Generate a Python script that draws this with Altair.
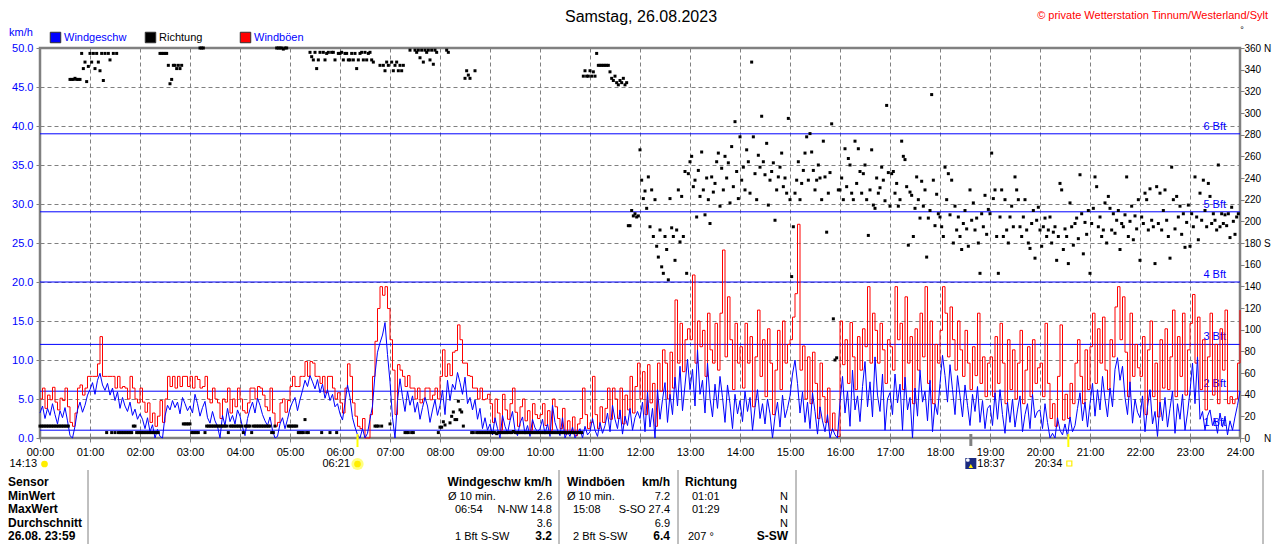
import altair as alt
import pandas as pd

FONT = "Liberation Sans"
BLUE = "#0000FF"
RED = "#FF0000"
GRAY = "#808080"

# ---------------- data ----------------
# wind speed (km/h), one value every 3 minutes, 00:00 .. 24:00
wind_speed = [
    3.2,4.1,2.5,3.8,2.9,4.4,3.0,1.8,3.5,2.6,3.9,2.2,0.3,0.0,1.5,3.6,4.6,3.3,4.2,5.5,
    6.2,7.1,5.6,7.4,8.3,6.8,6.1,7.0,5.5,6.4,4.8,5.9,3.8,5.2,4.1,3.4,4.6,2.9,3.7,2.4,
    3.1,2.4,1.2,2.6,0.8,1.7,0.0,1.1,0.2,0.0,2.8,4.2,3.6,4.8,3.9,4.6,3.1,5.2,4.4,3.5,
    4.1,3.2,5.6,4.4,2.8,3.9,4.7,2.6,1.9,3.4,2.2,1.5,0.0,2.9,1.6,3.8,2.1,2.9,1.8,3.6,
    2.8,1.4,0.3,2.5,3.7,4.6,3.2,5.1,4.2,3.0,2.2,1.6,2.7,1.0,0.0,0.2,1.8,2.6,1.2,2.4,
    3.8,4.6,5.2,3.5,4.9,6.1,7.4,6.6,8.0,7.2,6.3,7.5,5.8,6.9,5.1,6.2,4.8,5.6,4.0,4.4,
    3.1,2.3,4.5,6.8,5.2,2.6,1.4,0.4,0.0,1.2,0.0,0.6,2.4,4.1,8.2,11.0,12.2,13.2,14.8,10.7,
    7.2,2.6,0.0,4.8,7.6,5.3,3.4,6.0,4.2,5.4,3.3,4.6,2.4,3.9,5.2,4.1,2.0,3.6,4.9,2.9,
    4.2,6.1,3.0,7.4,4.8,6.9,6.2,8.4,7.1,5.6,7.8,4.4,5.2,3.6,4.9,2.4,3.8,1.2,2.6,1.0,
    1.8,0.4,2.6,1.2,0.0,2.9,1.5,0.6,2.2,3.4,1.0,0.3,1.9,2.7,0.5,1.6,0.2,2.4,1.3,0.8,
    1.2,2.4,0.5,1.8,0.2,4.2,2.0,1.0,0.3,2.6,0.0,0.8,0.2,1.4,0.0,0.6,1.2,0.0,1.5,0.4,
    0.8,2.5,1.0,0.2,2.0,0.6,1.6,3.2,0.8,4.2,2.4,1.2,3.6,0.5,2.8,1.6,3.8,1.0,2.6,3.4,
    2.5,4.6,0.8,5.9,1.4,3.8,0.0,6.2,2.4,4.9,7.1,2.0,5.6,3.0,7.8,4.1,9.2,3.5,6.8,10.1,
    6.2,8.8,4.1,11.3,5.6,7.4,3.2,9.6,5.1,2.7,6.9,3.8,7.9,5.2,2.0,6.8,4.4,1.2,5.6,3.1,
    4.8,2.1,6.0,3.4,5.2,1.0,3.9,6.2,2.5,4.4,1.8,5.0,3.1,0.0,2.8,4.6,1.4,5.5,2.6,3.8,
    5.4,8.2,10.0,7.0,3.2,5.9,2.0,4.6,1.2,5.8,3.4,0.5,4.0,2.2,0.8,3.0,0.0,1.2,0.4,0.0,
    4.6,7.9,3.2,6.0,1.5,8.7,3.6,5.4,2.1,6.6,9.8,4.0,7.2,2.7,10.4,5.5,3.4,8.2,1.0,5.0,
    5.8,3.0,8.2,4.5,6.9,1.0,7.8,3.6,5.2,0.0,6.4,2.8,8.7,4.6,6.0,2.2,7.4,0.8,4.4,3.0,
    7.0,10.6,8.0,4.6,9.4,6.2,3.0,8.0,5.4,2.7,6.8,4.2,1.6,5.6,3.4,6.6,2.0,4.8,1.2,3.8,
    4.2,1.6,5.8,2.4,6.2,3.0,0.6,4.6,2.0,5.0,1.4,3.6,5.4,0.8,3.0,4.4,1.2,5.6,2.6,3.4,
    3.6,1.2,4.4,2.0,0.0,0.6,0.0,2.6,1.0,0.4,1.8,0.2,2.7,0.8,1.6,3.8,5.8,2.2,4.6,1.4,
    4.4,7.0,2.8,6.2,3.6,7.9,5.0,2.7,6.4,4.0,8.8,10.3,7.4,9.2,5.2,3.0,7.2,1.9,5.0,3.3,
    2.6,5.4,0.8,4.0,6.2,1.8,3.4,0.2,4.6,2.2,5.2,1.4,3.8,6.0,0.6,4.4,2.4,5.6,1.0,3.2,
    6.0,9.6,4.4,10.4,2.4,3.4,1.0,2.8,3.6,1.6,2.4,0.6,3.2,1.4,2.8,0.4,2.2,1.0,2.7,4.2,6.0,
]

# wind gusts (km/h), same 3-minute steps
wind_gust = [
    5.0,6.4,3.8,5.5,4.9,6.5,4.6,3.6,5.1,4.8,6.4,4.0,2.0,1.5,3.2,6.4,6.8,5.5,6.4,7.9,
    7.9,7.9,7.9,9.5,13.0,7.9,7.9,7.9,7.9,7.9,6.4,7.9,6.4,6.6,6.4,5.0,7.9,6.4,5.0,4.5,
    6.4,4.6,3.3,4.5,2.0,3.2,1.5,2.8,4.8,2.0,5.0,7.9,6.6,7.9,6.4,7.9,6.6,7.9,7.9,6.6,
    7.9,6.4,7.9,7.5,6.4,6.6,7.9,5.0,4.5,6.4,5.0,4.5,2.5,5.0,4.6,6.4,3.2,5.0,4.0,6.4,
    5.0,3.5,3.2,4.5,6.4,6.4,5.0,6.6,6.4,5.5,4.0,3.5,6.4,3.2,1.5,2.0,4.5,5.0,3.3,4.8,
    6.6,7.9,6.6,6.6,7.9,7.9,9.8,7.9,9.8,9.6,7.9,7.9,7.0,7.9,5.8,7.9,7.9,6.4,5.0,5.8,
    4.5,3.2,6.4,9.5,7.9,4.5,2.8,1.5,1.2,2.5,0.0,0.0,3.0,7.9,12.4,16.6,19.4,18.3,19.4,16.6,
    12.6,8.7,3.0,9.4,8.7,7.9,6.6,8.0,6.4,6.4,5.0,6.4,4.5,5.0,6.4,6.4,4.9,5.5,6.4,5.0,
    7.9,11.3,7.9,9.5,8.0,11.0,11.2,14.5,12.6,9.6,9.6,8.0,7.9,6.4,6.4,5.0,6.4,4.9,5.0,5.6,
    4.4,2.0,5.0,3.2,1.0,5.6,3.6,2.4,4.4,6.4,3.3,1.5,4.0,5.0,2.2,3.5,1.0,4.4,3.0,2.5,
    3.0,4.4,1.6,3.5,1.0,5.0,4.0,2.5,1.2,3.8,0.5,2.2,0.8,2.7,0.3,1.8,2.5,6.4,3.0,1.2,
    2.0,7.9,3.0,1.2,4.0,2.0,3.8,6.4,2.4,6.4,5.0,2.5,6.4,1.8,5.5,3.6,7.9,3.2,6.6,9.6,
    5.0,8.5,3.0,9.4,4.5,7.0,1.5,9.6,6.0,11.3,9.6,5.0,11.0,6.4,17.7,9.6,14.7,8.5,12.6,14.0,
    12.6,20.9,9.6,15.0,11.7,13.8,7.9,16.0,11.3,9.6,14.7,8.7,16.0,24.1,10.4,18.1,12.6,6.2,14.7,9.6,
    11.7,6.4,14.7,9.6,13.0,4.0,10.4,16.4,7.9,12.6,5.3,14.0,9.6,3.0,8.7,13.8,6.2,15.0,9.6,12.0,
    12.6,15.5,18.5,27.4,8.7,11.8,5.0,10.4,4.4,11.0,7.0,2.5,9.6,5.3,2.0,6.4,1.0,3.2,1.0,0.2,
    15.0,9.4,12.6,7.0,14.8,10.4,6.2,13.0,8.7,14.0,11.7,19.4,9.6,16.0,13.8,9.6,14.7,11.3,7.0,12.6,
    11.7,8.7,19.4,12.6,14.7,6.2,18.1,9.6,13.0,4.4,14.0,8.7,16.0,10.4,19.4,7.0,15.0,4.4,12.0,9.6,
    13.8,19.4,16.0,10.4,16.8,12.6,8.7,15.0,11.3,7.9,13.8,9.6,6.2,11.7,8.0,16.0,7.0,10.4,5.3,9.6,
    10.4,5.3,13.0,7.0,14.7,9.6,4.4,12.6,6.2,11.3,5.0,9.6,13.8,4.4,8.7,11.7,5.3,12.6,7.0,9.0,
    9.6,5.3,14.7,7.0,2.5,4.4,1.5,7.9,14.5,2.3,5.6,2.5,7.0,4.4,9.6,12.6,7.9,4.4,11.3,6.2,
    11.7,16.0,7.0,14.0,9.6,15.5,8.7,6.2,12.6,10.4,16.8,19.4,12.6,18.1,11.0,5.3,16.0,7.9,12.0,9.0,
    7.9,13.0,3.0,11.3,15.0,5.3,9.6,2.7,12.6,6.4,14.0,6.2,10.4,16.4,5.3,13.0,7.9,16.0,5.5,11.3,
    14.7,18.4,9.6,15.5,6.2,12.6,3.6,10.4,16.0,5.5,12.0,4.4,14.0,8.7,16.4,4.4,5.3,4.4,5.0,9.6,16.4,
]

# wind direction (degrees), one value every 2 minutes
wind_dir = [
    11,11,11,11,11,11,11,11,11,11,11,11,11,11,11,11,11,11,331,331,331,332,331,331,331,355,341,347,329,343,
    355,347,355,341,355,347,339,355,330,355,5,355,349,5,355,5,355,5,5,5,5,5,5,5,5,5,11,11,5,5,
    5,5,5,5,5,5,5,5,5,5,5,5,355,355,355,355,355,344,327,331,344,344,341,344,341,344,13,13,13,13,
    13,5,5,5,5,5,360,360,360,5,11,11,11,11,11,11,11,11,11,11,11,11,11,5,11,11,11,11,11,11,
    11,11,5,11,11,11,11,5,11,11,11,11,11,11,11,11,11,11,11,5,5,11,360,360,360,360,359,360,360,11,
    11,11,11,11,11,5,5,5,5,17,5,5,356,352,349,356,341,349,356,5,356,349,355,356,5,356,356,349,5,355,
    355,356,349,355,355,349,349,355,349,355,341,349,355,356,349,356,349,355,356,349,347,11,11,11,344,11,344,339,347,344,
    13,347,339,344,347,339,344,339,344,5,5,5,358,5,5,358,356,358,351,358,347,358,356,358,349,358,345,358,356,5,
    10,10,15,12,358,356,14,20,24,17,17,34,26,24,11,332,339,335,332,5,5,339,5,5,5,5,5,5,5,5,
    5,5,5,5,4,5,5,5,5,5,5,5,5,5,6,5,5,5,5,5,5,5,5,5,5,5,5,5,5,5,
    5,5,5,5,5,5,5,5,5,5,5,5,5,5,5,5,5,5,5,5,5,5,5,5,5,5,334,339,334,334,
    339,334,338,334,355,344,344,344,344,344,344,344,338,332,330,334,328,326,330,328,332,326,328,196,196,210,205,207,204,205,
    266,238,221,228,212,241,195,229,186,220,177,167,192,158,152,186,174,146,221,194,186,164,192,229,181,223,186,246,152,244,
    255,260,232,238,204,247,223,264,229,206,240,220,198,241,227,235,255,263,214,249,229,260,240,254,217,269,232,292,246,221,
    278,238,250,229,266,255,226,347,278,244,220,261,250,297,255,243,272,215,238,246,254,201,229,241,250,263,232,240,226,295,
    220,149,195,226,238,255,220,235,247,263,278,238,281,264,247,229,238,252,240,220,274,241,190,226,245,290,110,72,74,229,
    229,240,220,267,232,258,252,226,220,274,235,267,246,226,244,252,220,187,229,266,215,212,240,226,231,250,238,219,307,245,
    214,244,246,226,235,214,220,274,260,257,232,178,227,224,186,212,241,220,203,237,214,229,167,203,210,317,238,196,225,207,
    204,195,186,250,220,244,206,238,180,214,192,204,186,174,198,210,193,177,229,201,217,192,203,180,152,207,195,224,188,211,
    207,263,221,229,186,152,204,229,186,220,192,180,204,214,195,241,229,220,195,186,204,220,192,180,175,198,210,166,201,213,
    192,177,195,203,186,192,204,180,190,195,164,186,235,229,174,193,186,161,217,195,178,198,203,184,243,207,170,199,188,210,
    152,198,212,241,232,195,204,186,192,217,180,223,212,192,207,189,201,210,174,198,195,206,241,186,200,214,183,205,193,220,
    164,204,198,226,220,192,230,201,195,161,232,198,226,192,210,229,201,186,166,250,220,193,223,204,214,188,207,176,199,215,
    177,207,195,241,204,183,226,201,238,210,195,235,223,198,207,201,192,252,195,207,198,206,196,207,185,213,200,188,204,207,
]

bft_level = [1, 2, 3, 4, 5, 6]
bft_kmh = [1, 6, 12, 20, 29, 39]

hour_ticks = list(range(0, 1441, 60))
kmh_ticks = [0, 5, 10, 15, 20, 25, 30, 35, 40, 45, 50]
dir_ticks = list(range(0, 361, 20))

title_text = "Samstag, 26.08.2023"
copyright_text = "© private Wetterstation Tinnum/Westerland/Sylt"
unit_text = "km/h"
legend_names = ["Windgeschw", "Richtung", "Windböen"]

sun_events = [381, 1234]          # 06:21 sunrise, 20:34 sunset
moon_events = [1117]              # 18:37
event_labels = ["06:21", "18:37", "20:34", "14:13"]

table_rows = ["Sensor", "MinWert", "MaxWert", "Durchschnitt", "26.08. 23:59"]
speed_head = "Windgeschw km/h"
speed_left = ["Ø 10 min.", "06:54", "", "1 Bft S-SW"]
speed_right = ["2.6", "N-NW 14.8", "3.6", "3.2"]
gust_head = ["Windböen", "km/h"]
gust_left = ["Ø 10 min.", "15:08", "", "2 Bft S-SW"]
gust_right = ["7.2", "S-SO 27.4", "6.9", "6.4"]
dir_head = "Richtung"
dir_left = ["01:01", "01:29", "", "207 °"]
dir_right = ["N", "N", "N", "S-SW"]

# ---------------- frames ----------------
df_wind = pd.DataFrame({"t": [3 * i for i in range(len(wind_speed))],
                        "speed": wind_speed, "gust": wind_gust})
df_dir = pd.DataFrame({"t": [2 * i for i in range(len(wind_dir))], "dir": wind_dir})
df_bft = pd.DataFrame({"kmh": bft_kmh, "label": [f"{b} Bft" for b in bft_level]})

x_scale = alt.Scale(domain=[0, 1440], nice=False, zero=False)
x_axis = alt.Axis(values=hour_ticks, title=None,
                  labelExpr="(datum.value < 600 ? '0' : '') + floor(datum.value / 60) + ':00'",
                  grid=True, gridDash=[4, 3], gridColor=GRAY, gridOpacity=1, gridWidth=1,
                  domain=False, tickColor=GRAY, tickSize=4, labelPadding=4,
                  labelFont=FONT, labelFontSize=11, labelColor="black",
                  labelFlush=False, labelOverlap=False)
X = alt.X("t:Q", scale=x_scale, axis=x_axis)

kmh_scale = alt.Scale(domain=[0, 50], nice=False, zero=True)
kmh_axis = alt.Axis(values=kmh_ticks, format=".1f", title=None,
                    grid=True, gridDash=[4, 3], gridColor=GRAY, gridOpacity=1, gridWidth=1,
                    domain=False, tickColor=GRAY, tickSize=4, labelPadding=3,
                    labelFont=FONT, labelFontSize=11, labelColor=BLUE,
                    labelFlush=False, labelOverlap=False)

NB = "\u00a0"
dir_axis = alt.Axis(orient="right", values=dir_ticks, title=None, grid=False, domain=False,
                    tickColor=GRAY, tickSize=4, labelPadding=0,
                    labelFont=FONT, labelFontSize=10, labelColor="black",
                    labelFlush=False, labelOverlap=False,
                    labelExpr=("datum.value == 360 ? '360 N' : datum.value == 180 ? '180 S' : "
                               "datum.value == 0 ? '0" + NB * 5 + "N' : datum.label"))

bft_rules = alt.Chart(df_bft).mark_rule(color=BLUE, strokeWidth=1).encode(
    y=alt.Y("kmh:Q", scale=kmh_scale, axis=kmh_axis))
bft_labels = alt.Chart(df_bft).mark_text(
    align="right", baseline="alphabetic", dy=-4, color=BLUE, font=FONT, fontSize=11
).encode(y=alt.Y("kmh:Q", scale=kmh_scale, axis=kmh_axis), x=alt.value(1186), text="label:N")

gust_line = alt.Chart(df_wind).mark_line(color=RED, strokeWidth=1, interpolate="step-after").encode(
    x=X, y=alt.Y("gust:Q", scale=kmh_scale, axis=kmh_axis))
speed_line = alt.Chart(df_wind).mark_line(color=BLUE, strokeWidth=1).encode(
    x=X, y=alt.Y("speed:Q", scale=kmh_scale, axis=kmh_axis))

inner = alt.layer(bft_rules, bft_labels, gust_line, speed_line)

dots = alt.Chart(df_dir).mark_square(size=9, color="black", opacity=1).encode(
    x=X, y=alt.Y("dir:Q", scale=alt.Scale(domain=[0, 360], nice=False), axis=dir_axis))


def T(s, x, y, size=11, color="black", align="left", bold=False, baseline="alphabetic"):
    return alt.Chart(pd.DataFrame({"s": [s]})).mark_text(
        align=align, baseline=baseline, font=FONT, fontSize=size, color=color,
        fontWeight="bold" if bold else "normal"
    ).encode(x=alt.value(x), y=alt.value(y), text="s:N")


texts = []
# header
texts.append(T(title_text, 601, -31.5, size=16, align="center", baseline="middle"))
texts.append(T(copyright_text, 1228, -32.5, size=11, color=RED, align="right", baseline="middle"))
texts.append(T("°", 1202, -18, size=9, align="center", baseline="middle"))
texts.append(T(unit_text, -31, -15.5, size=11, color=BLUE, baseline="middle"))

# legend
leg_colors = [BLUE, "black", RED]
leg_text_colors = [BLUE, "black", BLUE]
for i, name in enumerate(legend_names):
    x0 = 15.5 + 95 * i
    texts.append(alt.Chart(pd.DataFrame({"s": [name]})).mark_square(
        size=110, fill=leg_colors[i], stroke="#303030", strokeWidth=1, opacity=1
    ).encode(x=alt.value(x0), y=alt.value(-10.5)))
    texts.append(T(name, x0 + 8.5, -10.5, size=11, color=leg_text_colors[i], baseline="middle"))

# sun / moon events under the time axis
df_sun = pd.DataFrame({"t": sun_events})
df_moon = pd.DataFrame({"t": moon_events})
events = [
    alt.Chart(df_sun).mark_rule(color="#FFFF00", strokeWidth=2).encode(
        x=X, y=alt.value(386), y2=alt.value(399)),
    alt.Chart(df_moon).mark_rule(color=GRAY, strokeWidth=3).encode(
        x=X, y=alt.value(386), y2=alt.value(398)),
    alt.Chart(df_sun.iloc[[0]]).mark_point(shape="circle", size=150, filled=True, color="#FFFF80", opacity=1).encode(
        x=X, y=alt.value(416)),
    alt.Chart(df_sun.iloc[[0]]).mark_point(shape="circle", size=45, filled=True, color="#FFEE00", opacity=1).encode(
        x=X, y=alt.value(416)),
    alt.Chart(df_sun.iloc[[1]]).mark_square(size=25, filled=False, color="#FFEE00", strokeWidth=1.2, opacity=1).encode(
        x=X, y=alt.value(415.5), xOffset=alt.value(1)),
    alt.Chart(df_moon).mark_square(size=121, color="#1A2A80", opacity=1).encode(
        x=X, y=alt.value(415.5)),
    alt.Chart(df_moon).mark_point(shape="circle", size=14, filled=True, color="white", opacity=1).encode(
        x=X, y=alt.value(412), xOffset=alt.value(-3)),
    alt.Chart(df_moon).mark_point(shape="triangle-up", size=20, filled=True, color="#FFEE00", opacity=1).encode(
        x=X, y=alt.value(418)),
    alt.Chart(pd.DataFrame({"t": [sun_events[0]], "s": [event_labels[0]]})).mark_text(
        align="right", baseline="middle", dx=-7.5, font=FONT, fontSize=11, color="black").encode(
        x=X, y=alt.value(416), text="s:N"),
    alt.Chart(pd.DataFrame({"t": [moon_events[0]], "s": [event_labels[1]]})).mark_text(
        align="left", baseline="middle", dx=6.5, font=FONT, fontSize=11, color="black").encode(
        x=X, y=alt.value(416), text="s:N"),
    alt.Chart(pd.DataFrame({"t": [sun_events[1]], "s": [event_labels[2]]})).mark_text(
        align="right", baseline="middle", dx=-6, font=FONT, fontSize=11, color="black").encode(
        x=X, y=alt.value(416), text="s:N"),
]
texts.append(T(event_labels[3], -3, 416, size=11, align="right", baseline="middle"))
texts.append(alt.Chart(pd.DataFrame({"s": ["x"]})).mark_point(
    shape="circle", size=45, filled=True, color="#FFEE00", opacity=1).encode(
    x=alt.value(4.5), y=alt.value(416)))

# table
row_y = [438, 451.5, 465, 478.5, 492]
for xs in [48, 519, 638, 756, 1223]:
    texts.append(alt.Chart(pd.DataFrame({"s": ["x"]})).mark_rule(color=GRAY, strokeWidth=1).encode(
        x=alt.value(xs), y=alt.value(422), y2=alt.value(496)))
for i, s in enumerate(table_rows):
    texts.append(T(s, -32, row_y[i], size=12, bold=True))
texts.append(T(speed_head, 512, row_y[0], size=12, bold=True, align="right"))
texts.append(T(gust_head[0], 527, row_y[0], size=12, bold=True))
texts.append(T(gust_head[1], 630, row_y[0], size=12, bold=True, align="right"))
texts.append(T(dir_head, 645, row_y[0], size=12, bold=True))
for i in range(4):
    last = i == 3
    y = row_y[i + 1]
    if speed_left[i]:
        texts.append(T(speed_left[i], 408 if i == 0 else 415, y))
    texts.append(T(speed_right[i], 512, y, align="right", bold=last, size=12 if last else 11))
    if gust_left[i]:
        texts.append(T(gust_left[i], 527 if i == 0 else 533, y))
    texts.append(T(gust_right[i], 630, y, align="right", bold=last, size=12 if last else 11))
    if dir_left[i]:
        texts.append(T(dir_left[i], 648 if last else 652, y))
    texts.append(T(dir_right[i], 748, y, align="right", bold=last, size=12 if last else 11))

chart = alt.layer(inner, dots, *events, *texts).resolve_scale(y="independent").properties(
    width=1200, height=390,
    padding={"left": 32, "top": 40, "right": 32, "bottom": 106},
    autosize=alt.AutoSizeParams(type="none"),
    background="white",
).configure_view(stroke=GRAY, strokeWidth=2.5)

chart.save("out.html", embed_options={"renderer": "svg", "actions": False})
